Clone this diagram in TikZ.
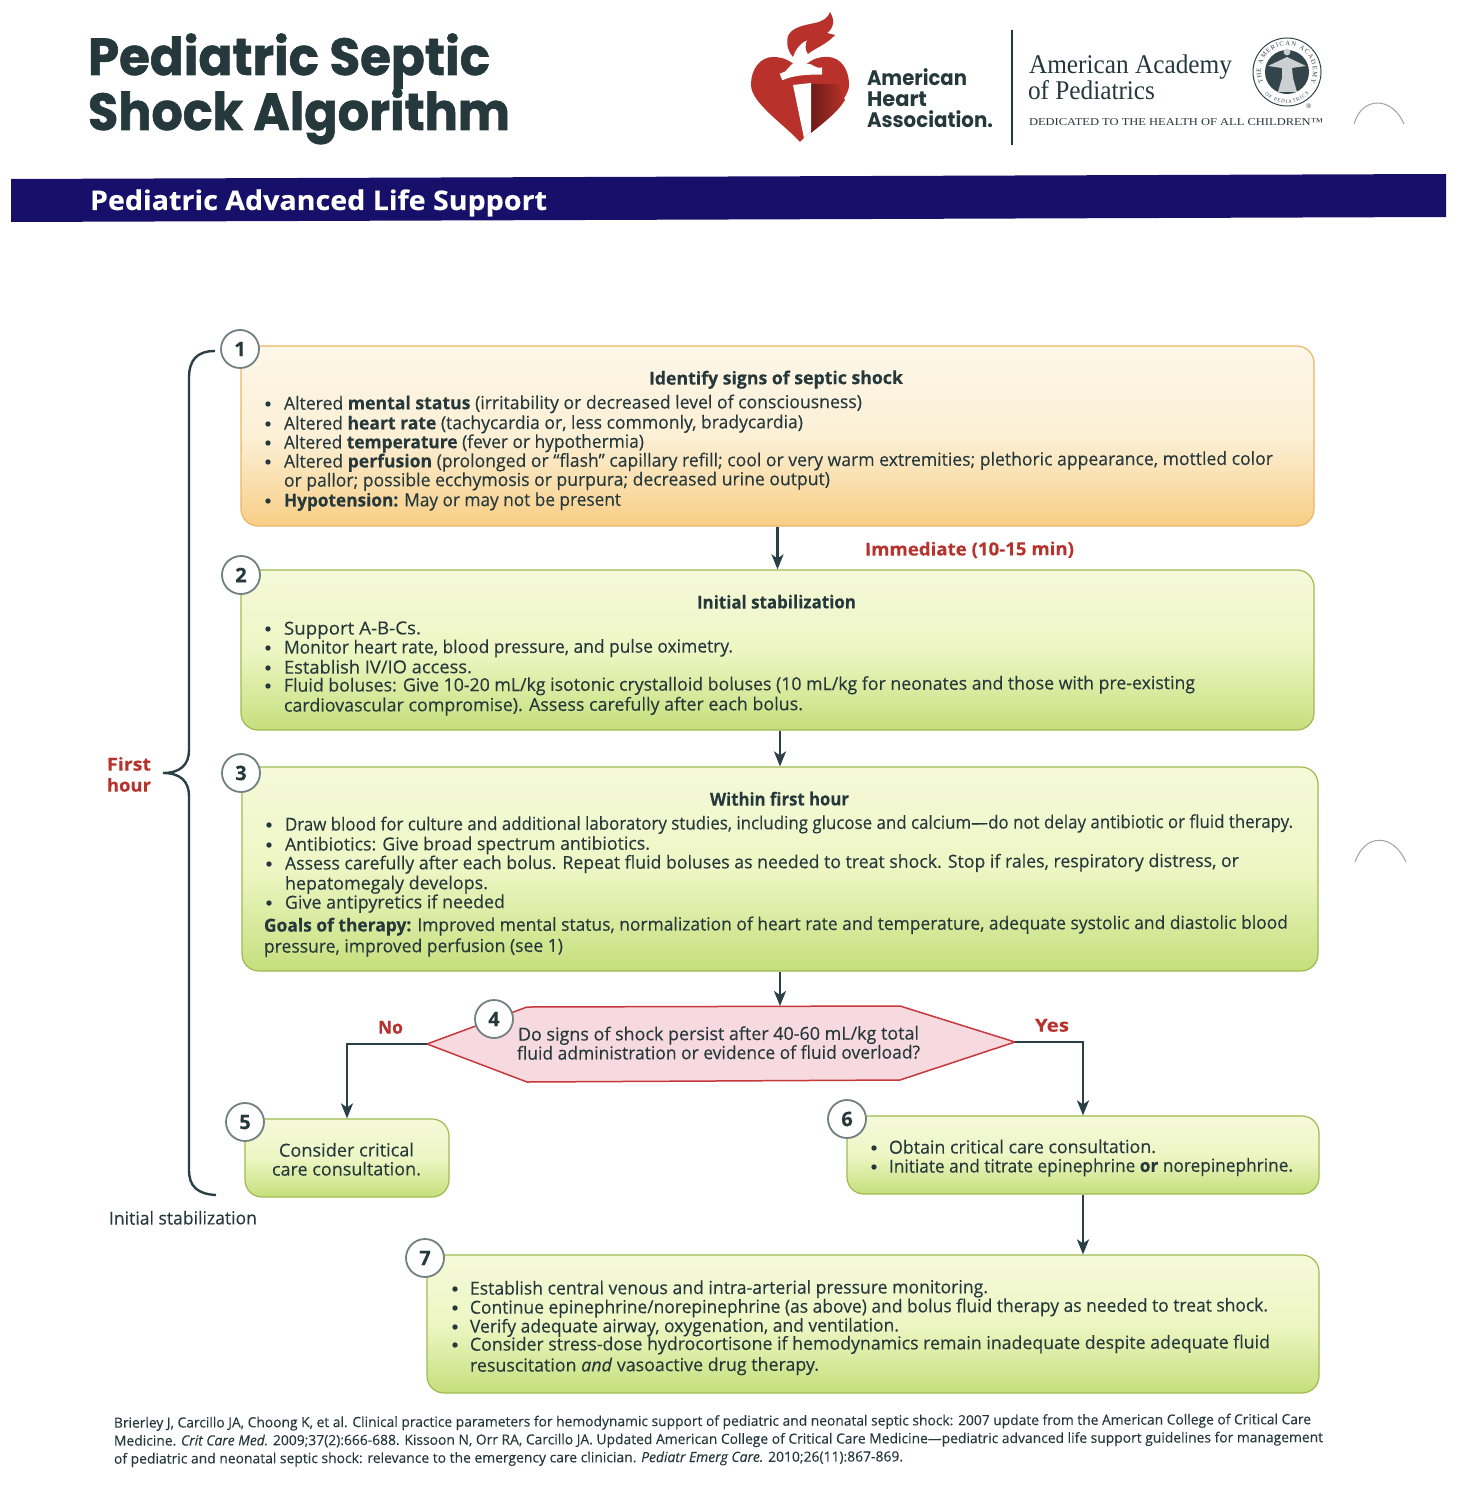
\documentclass[tikz,border=0pt]{standalone}
\usepackage{fontspec}
\usepackage{graphicx}
\usetikzlibrary{arrows.meta,decorations.text}
\setmainfont{Open Sans}[FakeBold=0.2]
\newfontfamily\headfont{Poppins}[BoldFeatures={FakeBold=1.2}]
\newfontfamily\logofont{Poppins}
\newfontfamily\serifface{Liberation Serif}
\definecolor{ink}{HTML}{25383C}
\definecolor{arrowink}{HTML}{2B4046}
\definecolor{alert}{HTML}{B5322D}
\definecolor{navy}{HTML}{17106A}
\newcounter{tln}
\newcommand{\tl}[4]{\stepcounter{tln}\node[txt] (t\arabic{tln}) at (#1,#3+0.7) {\resizebox{\dimexpr#2pt-#1pt\relax}{\height}{#4}};}
\newcommand{\tlx}[5]{\stepcounter{tln}\node[txt,#1] (t\arabic{tln}) at (#2,#4+0.7) {\resizebox{\dimexpr#3pt-#2pt\relax}{\height}{#5}};}
\newcommand{\blt}[2]{\fill[ink] (#1,#2-5) circle (2.7pt);}
\definecolor{orangeT}{HTML}{FDF7E8}
\definecolor{orangeM}{HTML}{FCF0D6}
\definecolor{orangeB}{HTML}{F8CE85}
\definecolor{orangeE}{HTML}{EDB566}
\definecolor{greenT}{HTML}{F5F9D9}
\definecolor{greenM}{HTML}{EEF6C4}
\definecolor{greenB}{HTML}{C5DF7C}
\definecolor{greenE}{HTML}{9DBB4F}
\definecolor{numE}{HTML}{71817F}
\definecolor{curlc}{HTML}{A0A0A0}
\definecolor{hexF}{HTML}{F7D9E0}
\definecolor{hexE}{HTML}{C6383C}
\definecolor{heartR}{HTML}{B8322B}
\definecolor{heartD}{HTML}{6E1B17}
\definecolor{sealD}{HTML}{33444A}
\tikzset{
  txt/.style={anchor=base west,inner sep=0pt,outer sep=0pt,text=ink,rotate=0.17,font=\fontsize{18}{19}\selectfont},
  cite/.style={font=\fontsize{14}{16}\selectfont},
  red/.style={text=alert,font=\fontsize{18}{19}\selectfont\bfseries},
  hdr/.style={txt,rotate=-0.17},
  orangebox/.style={rectangle,rounded corners=17pt,draw=orangeE,line width=1.2pt,top color=orangeT,bottom color=orangeB,middle color=orangeM,inner sep=0pt},
  greenbox/.style={rectangle,rounded corners=17pt,draw=greenE,line width=1.2pt,top color=greenT,bottom color=greenB,middle color=greenM,inner sep=0pt},
  numc/.style={circle,draw=numE,line width=1.8pt,fill=white,minimum size=38pt,inner sep=0pt,text=ink,font=\fontsize{20}{20}\selectfont\bfseries},
  arr/.style={draw=arrowink,line width=2.4pt,-{Stealth[length=15pt,width=12pt,inset=4pt]}},
  curl/.style={draw=curlc,line width=1pt},
}
\begin{document}
\begin{tikzpicture}[x=1pt,y=-1pt]
\useasboundingbox (0,0) rectangle (1460,1506);
% ---- header
\node[hdr] (title1) at (88,75) {\resizebox{402pt}{\height}{\headfont\fontsize{52}{54}\selectfont\bfseries Pediatric Septic}};
\node[hdr] (title2) at (88,130) {\resizebox{422pt}{\height}{\headfont\fontsize{52}{54}\selectfont\bfseries Shock Algorithm}};
% heart logo
\fill[heartR] (800,142) .. controls (785,125) and (751,103) .. (751,85) .. controls (751,68) and (761,57) .. (773,57) .. controls (782,57) and (793,60) .. (800,72) .. controls (807,60) and (819,56) .. (829,57) .. controls (840,58) and (849,68) .. (849,85) .. controls (849,103) and (815,125) .. (800,142) -- cycle;
\path[left color=heartD,right color=heartR] (811,84) -- (838,84) -- (845,100) .. controls (838,112) and (822,124) .. (811,133) -- cycle;
\fill[white] (792,64) -- (810,64) -- (822,70) -- (781,76) -- cycle;
\fill[white] (793,85) -- (811,83) -- (811,131) -- (804,138) -- cycle;
\draw[white,line width=7pt] (781,77) .. controls (792,72) and (805,71) .. (822,71);
\fill[heartR] (830,12) .. controls (835,20) and (834,28) .. (827,33) -- (835,35) .. controls (826,45) and (815,48) .. (808,54) .. controls (805,50) and (805,45) .. (807,40) .. controls (800,43) and (795,50) .. (793,57) .. controls (788,52) and (786,44) .. (788,36) .. controls (792,27) and (805,25) .. (815,23) .. controls (823,21) and (828,18) .. (830,12) -- cycle;
\node[hdr] (aha1) at (867,86) {\resizebox{100pt}{\height}{\logofont\fontsize{21}{22}\selectfont\bfseries American}};
\node[hdr] (aha2) at (867,107) {\resizebox{60pt}{\height}{\logofont\fontsize{21}{22}\selectfont\bfseries Heart}};
\node[hdr] (aha3) at (867,128) {\resizebox{126pt}{\height}{\logofont\fontsize{21}{22}\selectfont\bfseries Association.}};
\draw[ink,line width=1.2pt] (1012,30) -- (1012,145);
\node[hdr] (aap1) at (1029,74) {\resizebox{203pt}{\height}{\serifface\fontsize{27}{28}\selectfont American Academy}};
\node[hdr] (aap2) at (1028,100) {\resizebox{127pt}{\height}{\serifface\fontsize{27}{28}\selectfont of Pediatrics}};
\node[hdr] (aap3) at (1029,126) {\resizebox{294pt}{\height}{\serifface\fontsize{10.5}{12}\selectfont DEDICATED TO THE HEALTH OF ALL CHILDREN™}};
% seal
\draw[sealD,line width=1pt,fill=white] (1287,72) circle (34pt);
\fill[sealD] (1287,72) circle (22pt);
\fill[white!75!sealD] (1287,52) circle (3.4pt);
\fill[white!75!sealD] (1268,66) -- (1287,57) -- (1306,66) -- (1292,68) -- (1293,78) -- (1297,92) -- (1278,92) -- (1282,78) -- (1282,68) -- cycle;
\path[decorate,decoration={text along path,text align=fit to path,text={|\serifface\fontsize{6.5}{7}\selectfont\color{sealD}|THE AMERICAN ACADEMY}}] (1263.4,82.6) arc[start angle=205,end angle=-25,radius=26pt];
\path[decorate,decoration={text along path,text align=fit to path,text={|\serifface\fontsize{5}{6}\selectfont\color{sealD}|OF PEDIATRICS}}] (1265,94) arc[start angle=225,end angle=315,radius=31pt];
\node[hdr] (sealr) at (1306,109) {\serifface\fontsize{7}{8}\selectfont ®};
\draw[curl] (1354,124) .. controls (1362,96) and (1392,96) .. (1404,124);
\draw[curl] (1355,862) .. controls (1365,833) and (1393,833) .. (1406,862);
% banner
\fill[navy] (11,179) -- (1446,174) -- (1446,217) -- (11,222) -- cycle;
\node[txt,text=white,rotate=-0.17] (banner) at (90,210) {\resizebox{457pt}{\height}{\fontsize{27}{28}\selectfont\bfseries Pediatric Advanced Life Support}};
% ---- boxes
\node[orangebox,minimum width=1073pt,minimum height=180pt] (b1) at (777.5,436) {};
\node[greenbox,minimum width=1073pt,minimum height=160pt] (b2) at (777.5,650) {};
\node[greenbox,minimum width=1076pt,minimum height=204pt] (b3) at (780,869) {};
\coordinate (hexL) at (427,1044);
\coordinate (hexTL) at (527,1007);
\coordinate (hexTR) at (900,1006);
\coordinate (hexT) at (780,1006);
\coordinate (hexR) at (1015,1042);
\coordinate (hexBR) at (900,1080);
\coordinate (hexBL) at (527,1082);
\draw[hexE,line width=1.5pt,fill=hexF] (hexL) -- (hexTL) -- (hexTR) -- (hexR) -- (hexBR) -- (hexBL) -- cycle;
\node[greenbox,minimum width=204pt,minimum height=78pt] (b5) at (347,1158) {};
\node[greenbox,minimum width=472pt,minimum height=78pt] (b6) at (1083,1155) {};
\node[greenbox,minimum width=892pt,minimum height=138pt] (b7) at (873,1324) {};
% ---- connectors
\draw[arr,xshift=1.5pt] (b1.south) -- (b2.north);
\draw[arr] (b2.south -| b3.north) -- (b3.north);
\draw[arr] (b3.south) -- (hexT);
\draw[arr] (hexL) -| (b5.north);
\draw[arr] (hexR) -| (b6.north);
\draw[arr] (b6.south) -- (b7.north -| b6.south);
% brace
\coordinate (brT) at (215,351);
\coordinate (brM) at (163,773);
\coordinate (brB) at (216,1195);
\draw[arrowink,line width=2.4pt] (brT) .. controls (197,351) and (189,360) .. (189,378) -- (189,750) .. controls (189,765) and (180,773) .. (brM) .. controls (180,773) and (189,781) .. (189,796) -- (189,1170) .. controls (189,1186) and (197,1194) .. (brB);
% ---- number circles
\node[numc] (n1) at (240,349) {1};
\node[numc] (n2) at (241,575) {2};
\node[numc] (n3) at (241,773) {3};
\node[numc] (n4) at (494,1019) {4};
\node[numc] (n5) at (245,1122) {5};
\node[numc] (n6) at (847,1119) {6};
\node[numc] (n7) at (425,1258) {7};
% ---- box 1
\tl{649}{903}{384}{\bfseries Identify signs of septic shock}
\blt{268}{409}\tl{284}{862}{409}{Altered \textbf{mental status} (irritability or decreased level of consciousness)}
\blt{268}{429}\tl{284}{803}{429}{Altered \textbf{heart rate} (tachycardia or, less commonly, bradycardia)}
\blt{268}{448}\tl{284}{644}{448}{Altered \textbf{temperature} (fever or hypothermia)}
\blt{268}{467}\tl{284}{1273}{467}{Altered \textbf{perfusion} (prolonged or “flash” capillary refill; cool or very warm extremities; plethoric appearance, mottled color}
\tl{284}{830}{486}{or pallor; possible ecchymosis or purpura; decreased urine output)}
\blt{268}{506}\tl{284}{621}{506}{\textbf{Hypotension:} May or may not be present}
\tlx{red}{865}{1074}{555}{Immediate (10-15 min)}
% ---- box 2
\tl{697}{856}{608}{\bfseries Initial stabilization}
\blt{268}{634}\tl{284}{421}{634}{Support A-B-Cs.}
\blt{268}{653}\tl{284}{733}{653}{Monitor heart rate, blood pressure, and pulse oximetry.}
\blt{268}{673}\tl{284}{472}{673}{Establish IV/IO access.}
\blt{268}{691}\tl{284}{1195}{691}{Fluid boluses: Give 10-20 mL/kg isotonic crystalloid boluses (10 mL/kg for neonates and those with pre-existing}
\tl{284}{803}{711}{cardiovascular compromise). Assess carefully after each bolus.}
% ---- box 3
\tl{710}{849}{805}{\bfseries Within first hour}
\blt{269}{830}\tl{285}{1293}{830}{Draw blood for culture and additional laboratory studies, including glucose and calcium—do not delay antibiotic or fluid therapy.}
\blt{269}{850}\tl{285}{650}{850}{Antibiotics: Give broad spectrum antibiotics.}
\blt{269}{869}\tl{285}{1239}{869}{Assess carefully after each bolus. Repeat fluid boluses as needed to treat shock. Stop if rales, respiratory distress, or}
\tl{285}{488}{889}{hepatomegaly develops.}
\blt{269}{908}\tl{285}{505}{908}{Give antipyretics if needed}
\tl{264}{1288}{931}{\textbf{Goals of therapy:} Improved mental status, normalization of heart rate and temperature, adequate systolic and diastolic blood}
\tl{264}{563}{952}{pressure, improved perfusion (see 1)}
% ---- decision
\tl{518}{919}{1040}{Do signs of shock persist after 40-60 mL/kg total}
\tl{517}{920}{1059}{fluid administration or evidence of fluid overload?}
\tlx{red}{378}{403}{1033}{No}
\tlx{red}{1035}{1069}{1031}{Yes}
% ---- box 5, 6
\tl{279}{414}{1156}{Consider critical}
\tl{272}{421}{1175}{care consultation.}
\blt{874}{1153}\tl{889}{1156}{1153}{Obtain critical care consultation.}
\blt{874}{1172}\tl{889}{1293}{1172}{Initiate and titrate epinephrine \textbf{or} norepinephrine.}
% ---- box 7
\blt{455}{1294}\tl{470}{988}{1294}{Establish central venous and intra-arterial pressure monitoring.}
\blt{455}{1313}\tl{470}{1268}{1313}{Continue epinephrine/norepinephrine (as above) and bolus fluid therapy as needed to treat shock.}
\blt{455}{1332}\tl{470}{899}{1332}{Verify adequate airway, oxygenation, and ventilation.}
\blt{455}{1350}\tl{470}{1270}{1350}{Consider stress-dose hydrocortisone if hemodynamics remain inadequate despite adequate fluid}
\tl{470}{819}{1371}{resuscitation \textit{and} vasoactive drug therapy.}
% ---- side labels
\tlx{red}{107}{151}{770}{First}
\tlx{red}{107}{151}{791}{hour}
\tl{109}{257}{1224}{Initial stabilization}
% ---- citation
\tlx{cite}{114}{1311}{1427}{Brierley J, Carcillo JA, Choong K, et al. Clinical practice parameters for hemodynamic support of pediatric and neonatal septic shock: 2007 update from the American College of Critical Care}
\tlx{cite}{114}{1323}{1445}{Medicine. \textit{Crit Care Med.} 2009;37(2):666-688. Kissoon N, Orr RA, Carcillo JA. Updated American College of Critical Care Medicine—pediatric advanced life support guidelines for management}
\tlx{cite}{114}{903}{1463}{of pediatric and neonatal septic shock: relevance to the emergency care clinician. \textit{Pediatr Emerg Care.} 2010;26(11):867-869.}
\end{tikzpicture}
\end{document}
